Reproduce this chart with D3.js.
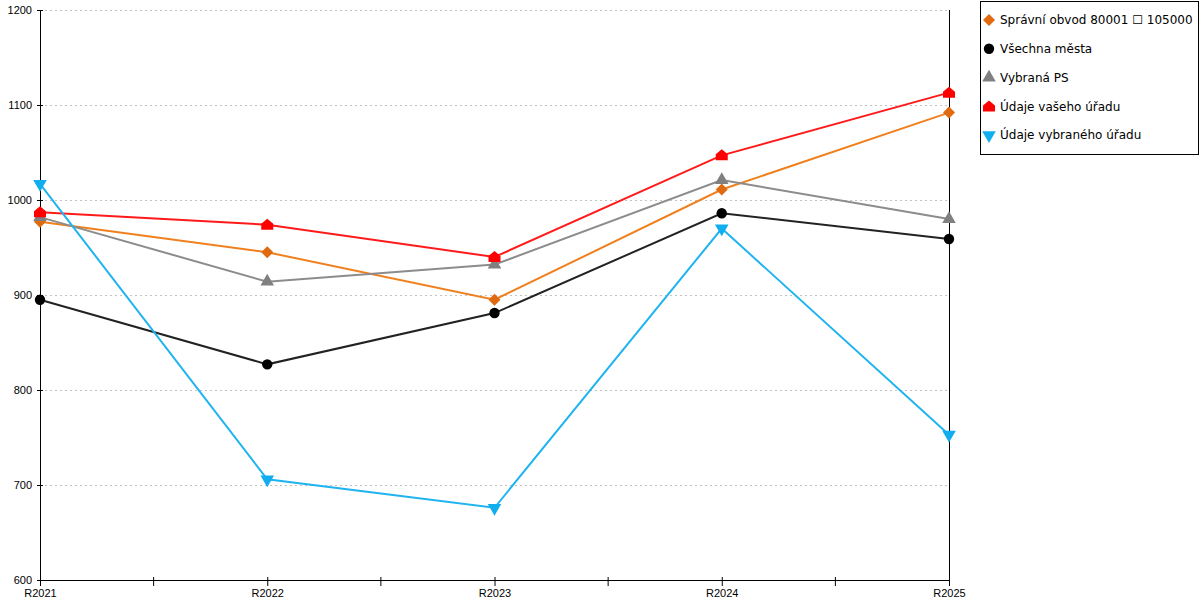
<!DOCTYPE html>
<html>
<head>
<meta charset="utf-8">
<script src="https://cdn.jsdelivr.net/npm/d3@7"></script>
<style>
  body { margin: 0; background: #fff; }
  svg { font-family: "DejaVu Sans", Verdana, sans-serif; }
</style>
</head>
<body>
<svg id="chart" width="1200" height="600"></svg>
<script>
// data
const years = ["R2021", "R2022", "R2023", "R2024", "R2025"];
const obvod = [977, 945, 895, 1011, 1092];
const vsechnaMesta = [895, 827, 881, 986, 959];
const vybranaPS = [982, 914, 932, 1021, 980];
const vasUrad = [987, 974, 940, 1047, 1113];
const vybranyUrad = [1017, 706, 676, 970, 753];
const yTicks = [600, 700, 800, 900, 1000, 1100, 1200];

const series = [
  { name: "Správní obvod 80001 \u2610 105000", values: obvod, color: "#F0801E", mark: "#E06A10", shape: "diamond" },
  { name: "Všechna města", values: vsechnaMesta, color: "#222222", mark: "#000000", shape: "circle" },
  { name: "Vybraná PS", values: vybranaPS, color: "#8C8C8C", mark: "#808080", shape: "triangle" },
  { name: "Údaje vašeho úřadu", values: vasUrad, color: "#FF1A1A", mark: "#FF0000", shape: "house" },
  { name: "Údaje vybraného úřadu", values: vybranyUrad, color: "#1FB4F0", mark: "#10AEEF", shape: "down" },
];

const margin = { top: 10, right: 251, bottom: 20, left: 40 };
const width = 1200;
const height = 600;

const svg = d3.select("#chart");

const x = d3.scalePoint()
  .domain(years)
  .range([margin.left, width - margin.right]);

const y = d3.scaleLinear()
  .domain([600, 1200])
  .range([height - margin.bottom, margin.top]);

// dashed grid
svg.selectAll("line.grid")
  .data(yTicks.slice(1))
  .enter()
  .append("line")
  .attr("class", "grid")
  .attr("x1", margin.left)
  .attr("x2", width - margin.right)
  .attr("y1", (d) => y(d) + 0.5)
  .attr("y2", (d) => y(d) + 0.5)
  .style("stroke", "#c2c2c2")
  .style("stroke-width", 1)
  .style("stroke-dasharray", "2,3");

// right border line
svg.append("line")
  .attr("x1", width - margin.right + 0.5)
  .attr("x2", width - margin.right + 0.5)
  .attr("y1", margin.top)
  .attr("y2", height - margin.bottom)
  .style("stroke", "#000")
  .style("stroke-width", 1);

// y axis
const gy = svg.append("g")
  .attr("transform", `translate(${margin.left},0)`)
  .call(d3.axisLeft(y).tickValues(yTicks).tickFormat(d3.format("d"))
    .tickSize(3).tickSizeOuter(0).tickPadding(5));
gy.selectAll(".tick line").attr("x1", 3);
gy.selectAll("text").style("font-size", "11px").style("fill", "#000");

// x axis
const gx = svg.append("g")
  .attr("transform", `translate(0,${height - margin.bottom})`)
  .call(d3.axisBottom(x).tickSize(6).tickSizeOuter(0).tickPadding(3));
gx.selectAll(".tick line").attr("y1", -3);
gx.selectAll("text").style("font-size", "11px").style("fill", "#000");

// minor ticks between categories
const mids = years.slice(1).map((d, i) => (x(years[i]) + x(d)) / 2);
gx.selectAll("line.minor")
  .data(mids)
  .enter()
  .append("line")
  .attr("class", "minor")
  .attr("x1", (d) => d)
  .attr("x2", (d) => d)
  .attr("y1", -3)
  .attr("y2", 6)
  .style("stroke", "#000");

gx.select(".domain").style("stroke", "#000");
gy.select(".domain").style("stroke", "#000");

// marker shapes
function markPath(shape) {
  if (shape === "diamond") return "M0,-6L6,0L0,6L-6,0Z";
  if (shape === "circle") return d3.symbol(d3.symbolCircle, 85)();
  if (shape === "triangle") return d3.symbol(d3.symbolTriangle, 80)();
  if (shape === "down") return d3.symbol(d3.symbolTriangle, 80)();
  return "M-6,5L6,5L6,-1L0,-6L-6,-1Z";
}
function markRotate(shape) {
  return shape === "down" ? " rotate(180)" : "";
}

const line = d3.line()
  .x((d, i) => x(years[i]))
  .y((d) => y(d));

series.forEach((s) => {
  svg.append("path")
    .datum(s.values)
    .attr("d", line)
    .style("fill", "none")
    .style("stroke", s.color)
    .style("stroke-width", 2);
});

series.forEach((s) => {
  svg.selectAll(null)
    .data(s.values)
    .enter()
    .append("path")
    .attr("d", markPath(s.shape))
    .attr("transform", (d, i) => `translate(${x(years[i])},${y(d)})${markRotate(s.shape)}`)
    .style("fill", s.mark);
});

// legend
const legend = svg.append("g");
legend.append("rect")
  .attr("x", 980.5)
  .attr("y", 1.5)
  .attr("width", 218)
  .attr("height", 153)
  .style("fill", "#fff")
  .style("stroke", "#000");

const rows = legend.selectAll("g.row")
  .data(series)
  .enter()
  .append("g")
  .attr("class", "row")
  .attr("transform", (d, i) => `translate(989,${20 + i * 28.8})`);

rows.append("path")
  .attr("d", (d) => markPath(d.shape))
  .attr("transform", (d) => markRotate(d.shape))
  .style("fill", (d) => d.mark);

rows.append("text")
  .attr("x", 11)
  .attr("dy", "0.35em")
  .style("font-size", "12px")
  .style("fill", "#000")
  .text((d) => d.name);
</script>
</body>
</html>
